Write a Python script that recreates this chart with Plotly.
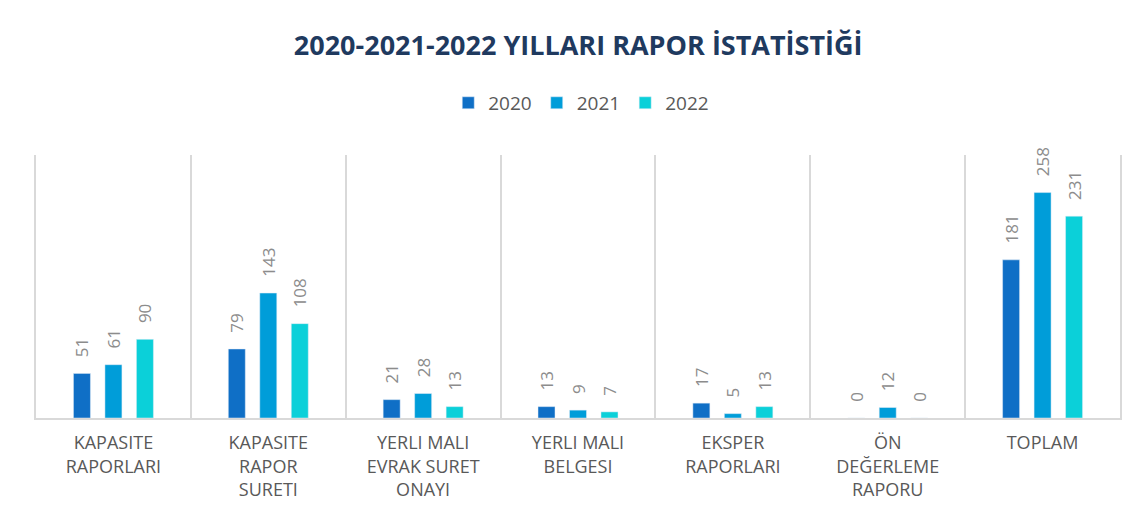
import plotly.graph_objects as go

categories = ["KAPASITE<br>RAPORLARI", "KAPASITE<br>RAPOR<br>SURETI", "YERLI MALI<br>EVRAK SURET<br>ONAYI",
              "YERLI MALI<br>BELGESI", "EKSPER<br>RAPORLARI", "ÖN<br>DEĞERLEME<br>RAPORU", "TOPLAM"]
series_names = ["2020", "2021", "2022"]
v2020 = [51, 79, 21, 13, 17, 0, 181]
v2021 = [61, 143, 28, 9, 5, 12, 258]
v2022 = [90, 108, 13, 7, 13, 0, 231]
colors = ["#0F6FC6", "#009DD9", "#0BD0D9"]

fig = go.Figure()
for name, vals, col in zip(series_names, [v2020, v2021, v2022], colors):
    fig.add_trace(go.Bar(
        x=categories, y=vals, name=name, marker_color=col,
        texttemplate="\u00a0\u00a0\u00a0%{y}", textposition="outside", textangle=-90,
        constraintext="none",
        textfont=dict(family="Open Sans", size=17, color="#8C8C8C"),
        cliponaxis=False,
    ))

fig.update_layout(
    width=1129, height=509,
    paper_bgcolor="white", plot_bgcolor="white",
    margin=dict(l=28, r=17, t=147, b=99, autoexpand=False),
    barmode="group", bargap=0.39, bargroupgap=0.46,
    title=dict(text="<b>2020-2021-2022 YILLARI RAPOR İSTATİSTİĞİ</b>", x=0.505, xanchor="center",
               y=0.927, yanchor="middle",
               font=dict(family="Open Sans", size=27, color="#1F3A5F")),
    legend=dict(orientation="h", x=0.503, xanchor="center", y=1.198, yanchor="middle",
                font=dict(family="Open Sans", size=19, color="#595959"),
                traceorder="normal"),
    showlegend=True,
)
fig.update_xaxes(type="category", tickson="boundaries", showgrid=True, gridcolor="#D9D9D9", gridwidth=1.5,
                 showline=True, linecolor="#D9D9D9", linewidth=1.5, ticks="",
                 tickfont=dict(family="Open Sans", size=18, color="#595959"), tickangle=0,
                 ticklabelstandoff=8, automargin=False)
fig.update_yaxes(range=[0, 301], showgrid=False, showticklabels=False, zeroline=False,
                 showline=True, mirror=True, linecolor="#D9D9D9", linewidth=1.5)

fig.write_html("out.html")
